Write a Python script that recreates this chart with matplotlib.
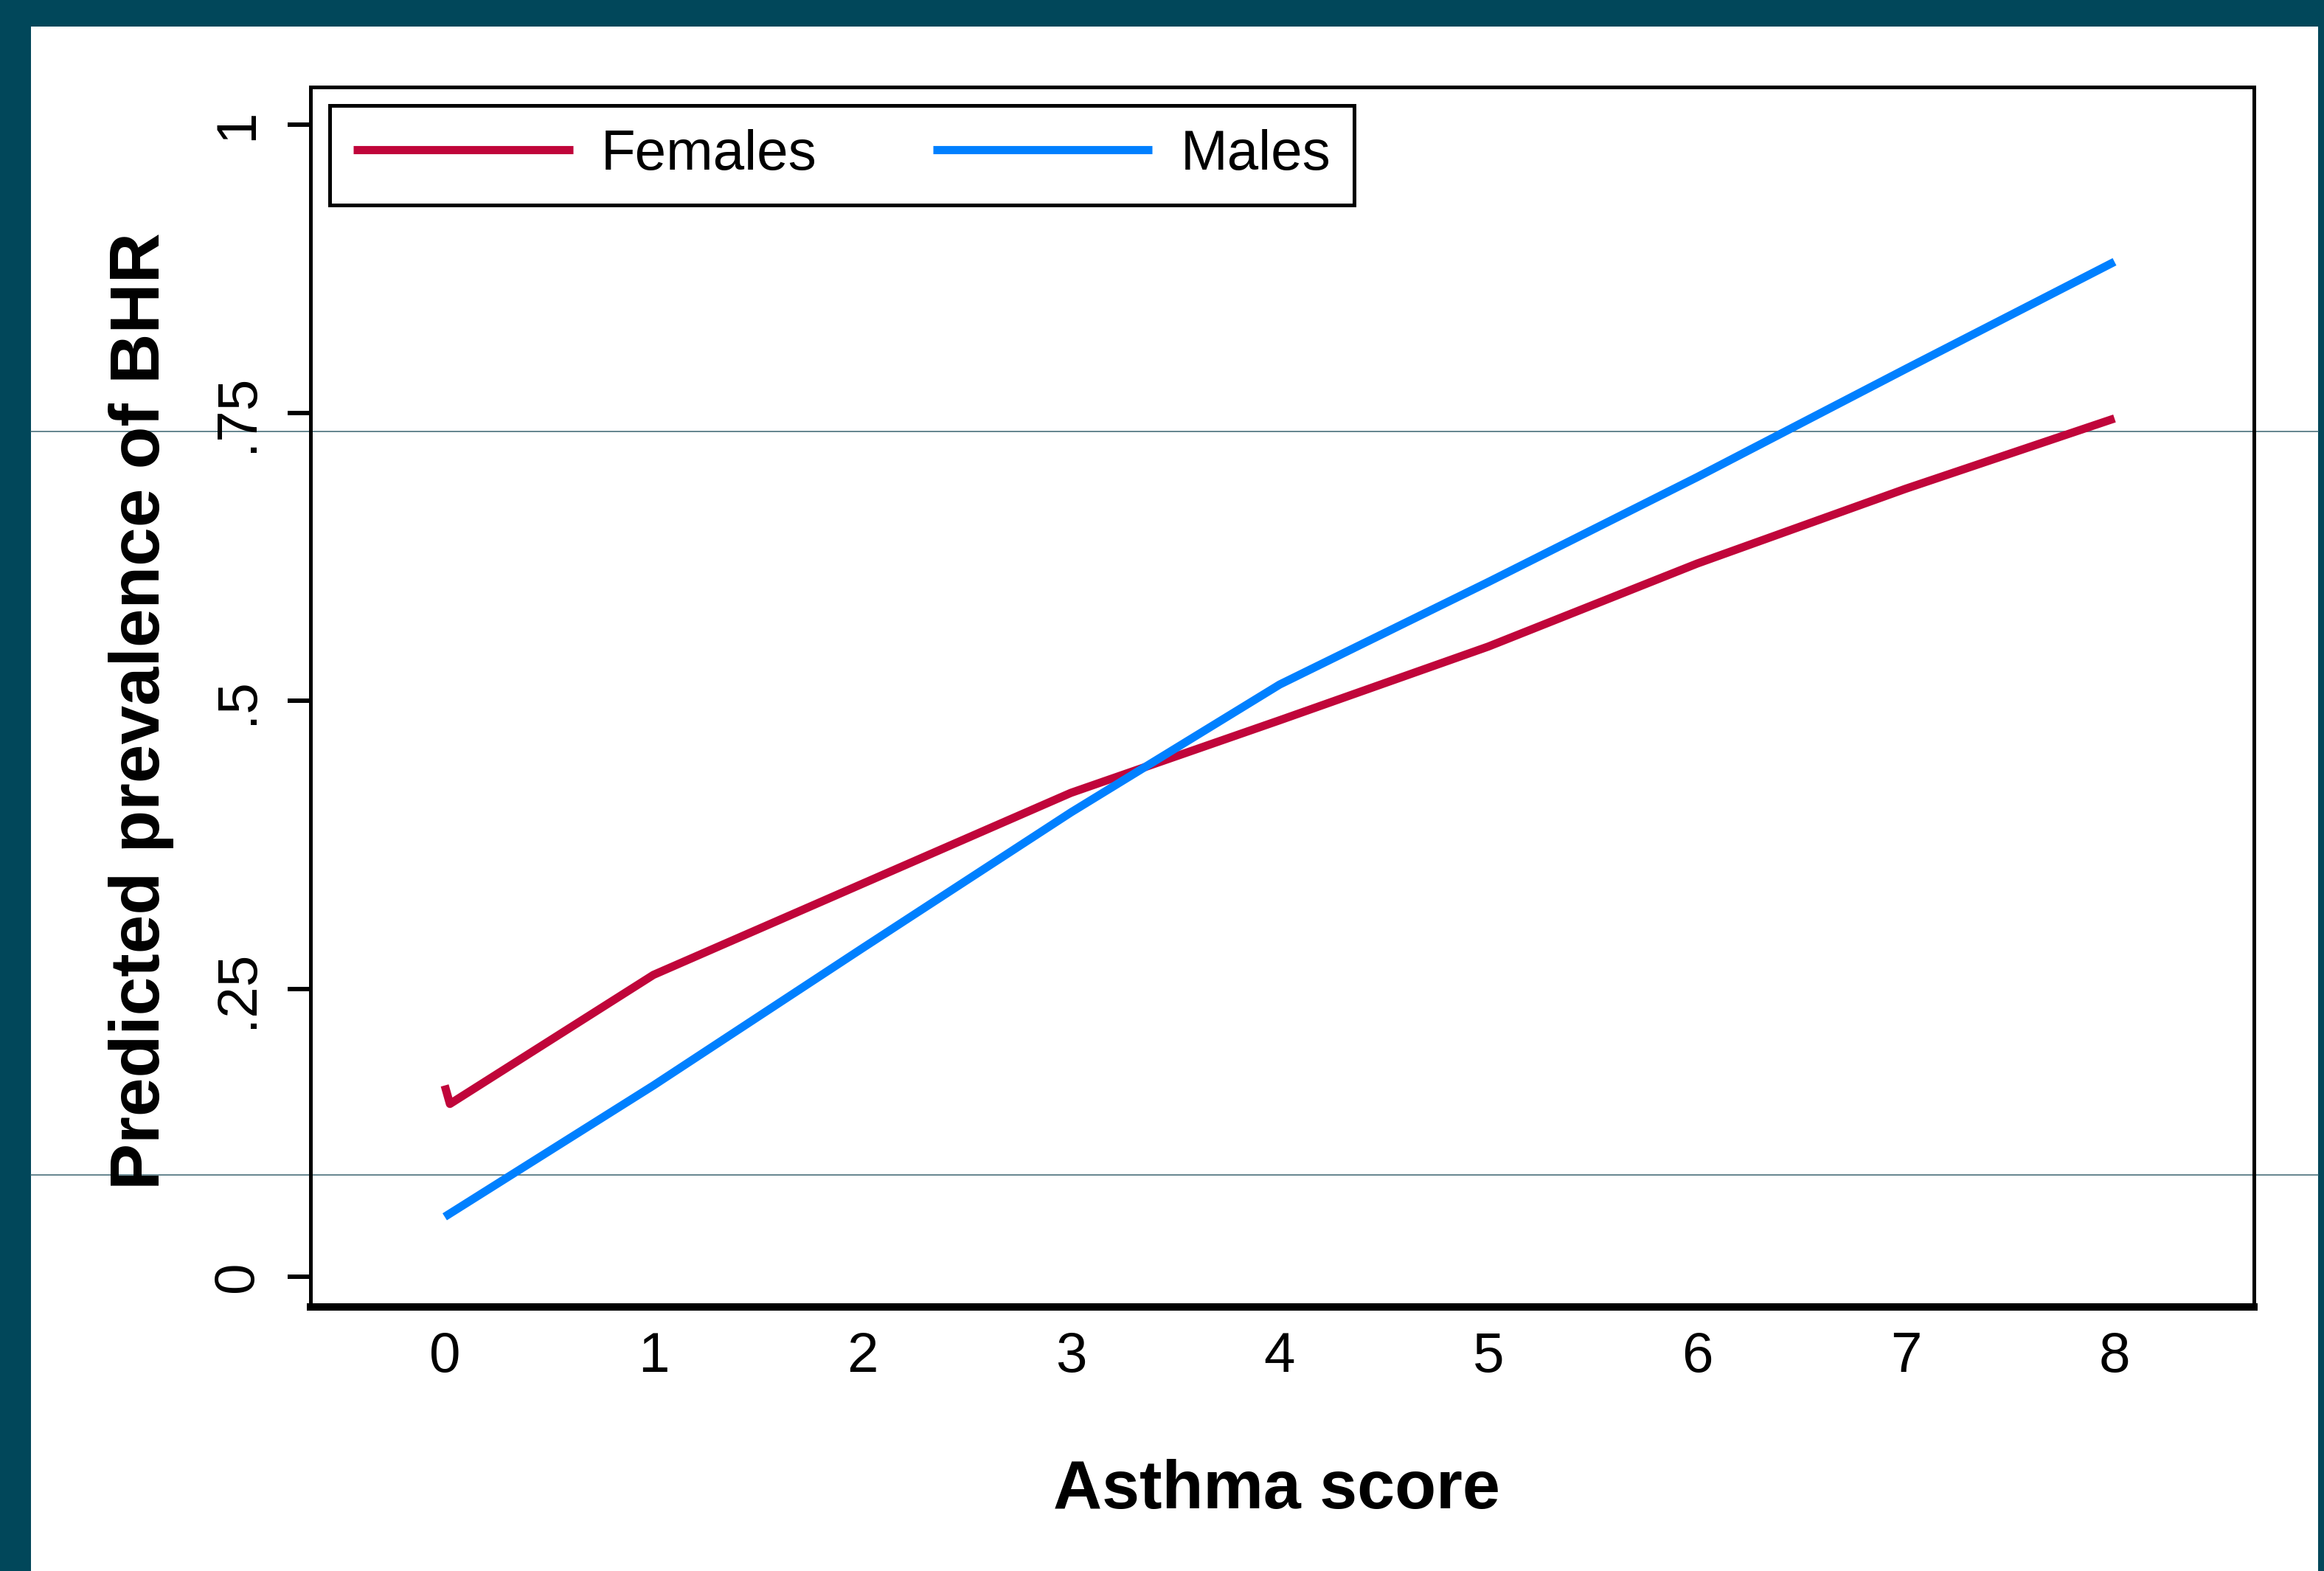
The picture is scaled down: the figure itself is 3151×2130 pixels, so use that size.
import matplotlib
matplotlib.use("Agg")
import matplotlib.pyplot as plt
from matplotlib.patches import Rectangle
from matplotlib.lines import Line2D

plt.rcParams['font.family'] = ['Liberation Sans', 'DejaVu Sans']

# Predicted prevalence of BHR by asthma score
score_f = [0, 0.025, 1, 2, 3, 4, 5, 6, 7, 8]
females = [0.166, 0.150, 0.262, 0.341, 0.420, 0.483, 0.547, 0.619, 0.684, 0.745]
score_m = [0, 1, 2, 3, 4, 5, 6, 7, 8]
males = [0.052, 0.166, 0.285, 0.403, 0.514, 0.603, 0.694, 0.788, 0.881]

x_ticks = [0, 1, 2, 3, 4, 5, 6, 7, 8]
y_ticks = [0, 0.25, 0.5, 0.75, 1]
y_labels = ['0', '.25', '.5', '.75', '1']

W, H = 3151, 2130
teal = '#01475A'
red = '#C0053A'
blue = '#0080FF'

fig = plt.figure(figsize=(W / 100, H / 100), dpi=100)
fig.patch.set_facecolor(teal)
# white slide area
fig.patches.append(Rectangle((42 / W, 0), (3143 - 42) / W, (H - 36) / H,
                             transform=fig.transFigure, facecolor='white',
                             edgecolor='none', zorder=-2))
# thin guide lines across the slide
for yp in [585, 1593]:
    fig.lines.append(Line2D([42 / W, 3143 / W], [1 - yp / H, 1 - yp / H],
                            transform=fig.transFigure, color='#3a6470',
                            lw=1.1, zorder=-1))

left, right, top, bottom = 421, 3056, 117.5, 1772
ax = fig.add_axes([left / W, 1 - bottom / H, (right - left) / W, (bottom - top) / H])
ax.set_facecolor('none')

ax.plot(score_f, females, color=red, lw=8, solid_capstyle='butt', label='Females')
ax.plot(score_m, males, color=blue, lw=8, solid_capstyle='butt', label='Males')

ax.set_xlim(-0.643, 8.668)
ax.set_ylim(-0.02625, 1.033)

for s in ['left', 'right', 'top']:
    ax.spines[s].set_linewidth(3.6)
ax.spines['bottom'].set_linewidth(7.2)

ax.set_xticks(x_ticks)
ax.set_yticks(y_ticks)
ax.set_yticklabels(y_labels, rotation=90, va='center')
ax.tick_params(axis='x', length=0, pad=24, labelsize=55)
ax.tick_params(axis='y', length=22, width=4.3, pad=23, labelsize=55)

ax.set_xlabel('Asthma score', fontsize=66, fontweight='bold', va='baseline')
ax.xaxis.set_label_coords(0.497, (bottom - 2045) / (bottom - top))
ax.set_ylabel('Predicted prevalence of BHR', fontsize=68, fontweight='bold', va='baseline')
ax.yaxis.set_label_coords((216 - left) / (right - left), (bottom - 964) / (bottom - top))

leg = ax.legend(loc='upper left', bbox_to_anchor=(447 / W, 1 - 143 / H),
                bbox_transform=fig.transFigure, ncol=2, fontsize=55,
                frameon=True, fancybox=False, framealpha=1, edgecolor='black',
                handlelength=3.9, handletextpad=0.5, columnspacing=2.05,
                borderpad=0.42, borderaxespad=0)
leg.get_frame().set_linewidth(3.6)
for h in leg.get_lines():
    h.set_linewidth(8)

fig.savefig('out.png', dpi=100, facecolor=fig.get_facecolor())
